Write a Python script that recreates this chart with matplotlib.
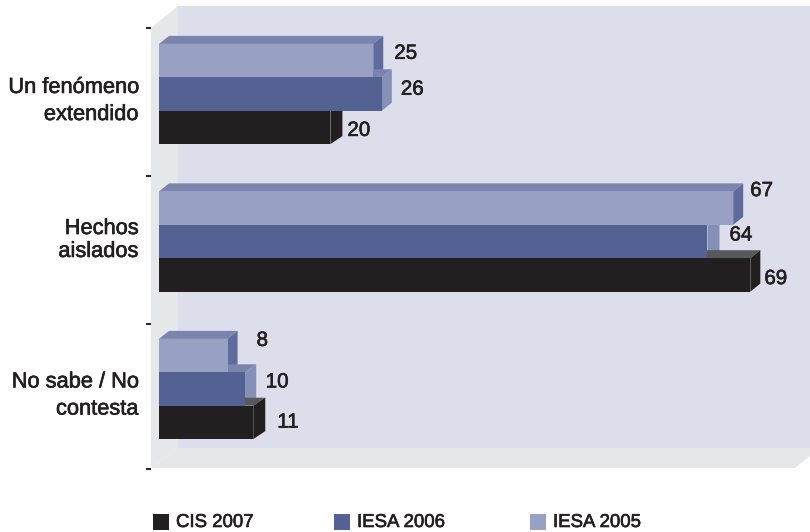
import matplotlib
matplotlib.use('Agg')
import matplotlib.pyplot as plt
import matplotlib.patheffects as pe
from matplotlib.patches import Polygon, Rectangle
from matplotlib.transforms import Affine2D

# values
categories = ['Un fenómeno\nextendido', 'Hechos\naislados', 'No sabe / No\ncontesta']
iesa_2005 = [25, 67, 8]
iesa_2006 = [26, 64, 10]
cis_2007 = [20, 69, 11]
series_names = ['CIS 2007', 'IESA 2006', 'IESA 2005']

# front, top, side colours of each bar
col_2005 = ('#98a1c3', '#7a84ae', '#5f6b9e')
col_2006 = ('#536293', '#7a84ae', '#8590b8')
col_cis = ('#231f20', '#58595b', '#231f20')
text_col = '#231f20'

W, H = 810, 532
fig = plt.figure(figsize=(W / 100, H / 100), dpi=100)
ax = fig.add_axes([0, 0, 1, 1])

# 8.57 px per unit, 147.5 px per category, origin at pixel (159, 94)
ax.set_xlim(-159 / 8.57, (W - 159) / 8.57)
ax.set_ylim((H - 94) / 147.5, -94 / 147.5)
ax.axis('off')

# pixel coords with y going down, for the frame and legend
px = Affine2D().scale(1 / W, -1 / H).translate(0, 1) + fig.transFigure

# Helvetica Medium look: regular weight with a thin outline
medium = [pe.withStroke(linewidth=0.45, foreground=text_col)]
font = dict(family='Liberation Sans', color=text_col, path_effects=medium)

wall = '#dcdeeb'
floor = '#e6e7e8'
ax.add_patch(Polygon([(178, 6), (W, 6), (W, 448), (178, 448)], fc=wall, ec='none', transform=px))
ax.add_patch(Polygon([(151, 28), (178, 6), (178, 448), (151, 468)], fc=floor, ec='none', transform=px))
ax.add_patch(Polygon([(151, 468), (178, 448), (W, 448), (W, 456), (795, 468)], fc=floor, ec='none', transform=px))

# tick marks
for y in [28, 176, 323.5, 469]:
    ax.plot([146, 151], [y, y], color=text_col, lw=1.4, transform=px, solid_capstyle='butt')

bar_h = 33.4 / 147.5
dy = 8 / 147.5


def draw_depth(val, y, cols, depth):
    # top and side faces go first, the front faces are painted over them afterwards
    dx = depth / 8.57
    top = [(0, y), (10 / 8.57, y - dy), (val + dx, y - dy), (val, y)]
    side = [(val, y), (val + dx, y - dy), (val + dx, y + bar_h - dy), (val, y + bar_h)]
    ax.add_patch(Polygon(top, fc=cols[1], ec='none'))
    ax.add_patch(Polygon(side, fc=cols[2], ec='none'))


# pixel depth of each bar, it is not the same everywhere in the picture
depths = [(10, 10, 12), (10, 12, 10), (10, 11.5, 12)]
# pixel offset of each value label from the end of its bar and from its middle
label_dx = [(21, 19, 17), (17, 22, 14), (29, 21, 24)]
label_dy = [(-7.3, -4.8, 3), (-17.5, -6.5, 3.7), (-15.2, -7, -0.2)]
# centre and line spacing of the category labels
cat_y = [101, 240, 395.5]
cat_spacing = [1.38, 1.12, 1.38]

for i in range(len(categories)):
    y0 = i - 1.5 * bar_h
    vals = [iesa_2005[i], iesa_2006[i], cis_2007[i]]
    cols = [col_2005, col_2006, col_cis]
    for j in range(3):
        draw_depth(vals[j], y0 + j * bar_h, cols[j], depths[i][j])
    for j in range(3):
        ax.add_patch(Rectangle((0, y0 + j * bar_h), vals[j], bar_h, fc=cols[j][0], ec='none'))
        ax.annotate(str(vals[j]), (vals[j], y0 + j * bar_h + bar_h / 2),
                    xytext=(label_dx[i][j] * 0.72, -label_dy[i][j] * 0.72),
                    textcoords='offset points', fontsize=14.8, va='center', ha='left', **font)
    ax.text(138, cat_y[i], categories[i], transform=px, ha='right', va='center',
            fontsize=15.7, linespacing=cat_spacing[i], **font)

# legend
legend_cols = [col_cis[0], col_2006[0], col_2005[0]]
legend_x = [153, 334, 530]
for name, c, x in zip(series_names, legend_cols, legend_x):
    ax.add_patch(Rectangle((x, 514), 16, 16, fc=c, ec='none', transform=px))
    ax.text(x + 23, 522.5, name, transform=px, ha='left', va='center', fontsize=13.4, **font)

fig.savefig('out.png', dpi=100, facecolor='white')
